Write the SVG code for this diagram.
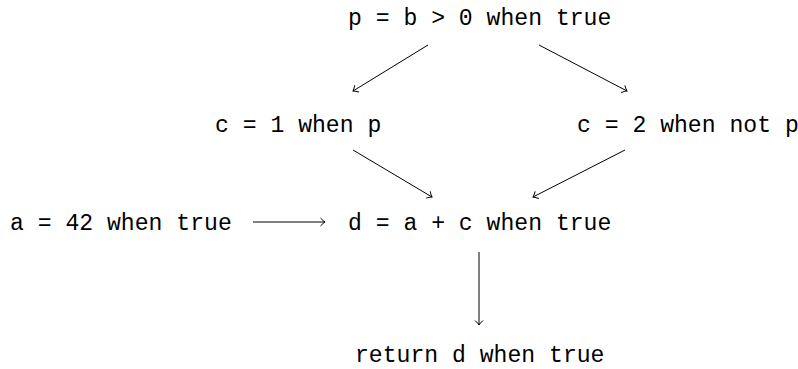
<svg xmlns="http://www.w3.org/2000/svg" width="798" height="369" viewBox="0 0 798 369">
<style>
text{font-family:"Liberation Mono","DejaVu Sans Mono",monospace;font-size:23.1px;fill:#000}
.e{stroke:#000;stroke-width:1;fill:none}
</style>
<defs>
<marker id="ah" markerWidth="12" markerHeight="12" refX="0" refY="0" viewBox="-6 -6 12 12" orient="auto" markerUnits="userSpaceOnUse">
<path d="M-4.5,-4 Q-1.5,-0.8 0,0 Q-1.5,0.8 -4.5,4" fill="none" stroke="#000" stroke-width="1"/>
</marker>
</defs>
<rect width="798" height="369" fill="#fff"/>
<g id="n_p"><text x="348" y="25">p = b &gt; 0 when true</text></g>
<g id="n_c1"><text x="215" y="132">c = 1 when p</text></g>
<g id="n_c2"><text x="577" y="132">c = 2 when not p</text></g>
<g id="n_a"><text x="10" y="230">a = 42 when true</text></g>
<g id="n_d"><text x="348" y="230">d = a + c when true</text></g>
<g id="n_r"><text x="355" y="362">return d when true</text></g>
<g id="edges">
<line class="e" x1="428" y1="45" x2="353" y2="91" marker-end="url(#ah)"/>
<line class="e" x1="539" y1="45" x2="627" y2="91" marker-end="url(#ah)"/>
<line class="e" x1="353" y1="150" x2="432" y2="197" marker-end="url(#ah)"/>
<line class="e" x1="625" y1="150" x2="533" y2="197" marker-end="url(#ah)"/>
<line class="e" x1="253" y1="222" x2="325" y2="222" marker-end="url(#ah)"/>
<line class="e" x1="479" y1="252" x2="479" y2="325" marker-end="url(#ah)"/>
</g>
</svg>
